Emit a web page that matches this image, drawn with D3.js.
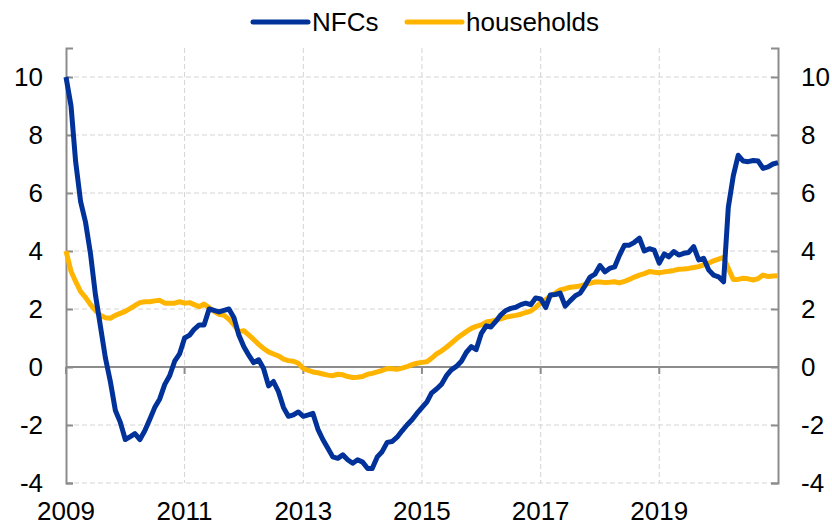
<!DOCTYPE html>
<html>
<head>
<meta charset="utf-8">
<script src="https://cdn.jsdelivr.net/npm/d3@7"></script>
<style>
  body { margin: 0; background: #fff; }
  svg { display: block; font-family: "Liberation Sans", Arial, sans-serif; }
  .grid line { stroke: #d4d4d4; stroke-width: 1; stroke-dasharray: 5 3; }
  .tick-lbl { font-size: 26px; fill: #000; }
</style>
</head>
<body>
<div id="chart"></div>
<script>
// monthly, Jan 2009 - Jan 2021
var startMonth = new Date(2009, 0, 1);

var nfcs = [
  10.0, 9.0, 7.1, 5.7, 5.0, 3.9, 2.5, 1.4, 0.3, -0.5, -1.5, -1.9,
  -2.5, -2.4, -2.3, -2.5, -2.2, -1.8, -1.4, -1.1, -0.6, -0.3, 0.2, 0.45,
  1.0, 1.1, 1.3, 1.45, 1.45, 2.0, 1.95, 1.9, 1.95, 2.0, 1.7, 1.1,
  0.7, 0.4, 0.15, 0.25, -0.05, -0.65, -0.5, -0.85, -1.4, -1.7, -1.65, -1.55,
  -1.7, -1.65, -1.6, -2.15, -2.5, -2.8, -3.1, -3.15, -3.03, -3.2, -3.32, -3.2,
  -3.28, -3.5, -3.5, -3.1, -2.92, -2.6, -2.57, -2.42, -2.2, -2.0, -1.82, -1.6,
  -1.4, -1.2, -0.9, -0.76, -0.6, -0.3, -0.1, 0.02, 0.2, 0.5, 0.7, 0.6,
  1.15, 1.42, 1.38, 1.58, 1.8, 1.95, 2.02, 2.06, 2.15, 2.2, 2.15, 2.38,
  2.35, 2.05, 2.48, 2.5, 2.55, 2.1, 2.28, 2.45, 2.55, 2.8, 3.1, 3.2,
  3.5, 3.28, 3.4, 3.45, 3.85, 4.2, 4.2, 4.3, 4.44, 4.0, 4.08, 4.03,
  3.58, 3.9, 3.8, 3.98, 3.86, 3.92, 3.95, 4.15, 3.69, 3.75, 3.35, 3.17,
  3.11, 2.94, 5.5, 6.6, 7.3, 7.1, 7.08, 7.12, 7.1, 6.85, 6.9, 7.0,
  7.05
];

var households = [
  4.0, 3.3, 2.95, 2.6, 2.4, 2.15, 1.95, 1.78, 1.7, 1.68, 1.78, 1.85,
  1.92, 2.02, 2.12, 2.22, 2.25, 2.25, 2.28, 2.3, 2.2, 2.2, 2.2, 2.25,
  2.2, 2.22, 2.15, 2.08, 2.17, 2.05, 1.92, 1.82, 1.78, 1.65, 1.45, 1.22,
  1.25, 1.1, 0.95, 0.78, 0.64, 0.52, 0.45, 0.38, 0.27, 0.22, 0.2, 0.13,
  -0.05, -0.12, -0.17, -0.2, -0.24, -0.28, -0.3, -0.25, -0.27, -0.33, -0.36, -0.35,
  -0.33, -0.25, -0.22, -0.17, -0.12, -0.05, -0.06, -0.08, -0.04, 0.01, 0.08, 0.13,
  0.16, 0.18, 0.3, 0.45, 0.55, 0.68, 0.82, 0.97, 1.1, 1.22, 1.33, 1.4,
  1.45, 1.55, 1.58, 1.62, 1.66, 1.72, 1.75, 1.78, 1.82, 1.88, 1.93, 2.05,
  2.22, 2.32, 2.45, 2.55, 2.66, 2.7, 2.75, 2.77, 2.79, 2.85, 2.89, 2.93,
  2.93, 2.91, 2.92, 2.94, 2.9, 2.95, 3.02, 3.1, 3.17, 3.22, 3.29, 3.27,
  3.25, 3.28, 3.3, 3.33, 3.37, 3.38, 3.4, 3.43, 3.46, 3.52, 3.58, 3.66,
  3.72, 3.78, 3.4, 3.02, 3.02, 3.06, 3.04, 3.0, 3.05, 3.17, 3.12, 3.14,
  3.15
];

var seriesNames = ["NFCs", "households"];
var seriesColors = ["#003299", "#ffb400"];
var yTicks = [-4, -2, 0, 2, 4, 6, 8, 10];
var xTickYears = [2009, 2011, 2013, 2015, 2017, 2019];

var width = 832, height = 527;
var margin = {top: 48, right: 54, bottom: 44, left: 66};
var plotW = width - margin.left - margin.right;
var plotH = height - margin.top - margin.bottom;

var svg = d3.select("#chart").append("svg")
  .attr("width", width).attr("height", height);
var g = svg.append("g")
  .attr("transform", "translate(" + margin.left + "," + margin.top + ")");

var x = d3.scaleTime()
  .domain([startMonth, new Date(2021, 0, 1)])
  .range([0, plotW]);
var y = d3.scaleLinear().domain([-4, 11]).range([plotH, 0]);

function dateAt(i) { return d3.timeMonth.offset(startMonth, i); }
var xTicks = xTickYears.map(function(yr){ return new Date(yr, 0, 1); });
var fmt = function(d){ return String(d); }; // plain hyphen minus

// grid
var grid = g.append("g").attr("class", "grid");
grid.selectAll(".hg").data(yTicks.filter(function(v){ return v !== 0; }))
  .enter().append("line")
  .attr("x1", 0).attr("x2", plotW)
  .attr("y1", function(d){ return y(d); }).attr("y2", function(d){ return y(d); });
grid.selectAll(".vg").data(xTicks.slice(1))
  .enter().append("line")
  .attr("x1", function(d){ return x(d); }).attr("x2", function(d){ return x(d); })
  .attr("y1", 0).attr("y2", plotH);

// zero line with year ticks hanging down
var axisCol = "#8c8c8c";
g.append("line")
  .attr("x1", 0).attr("x2", plotW).attr("y1", y(0)).attr("y2", y(0))
  .attr("stroke", axisCol).attr("stroke-width", 2);
g.selectAll(".xt").data(xTicks).enter().append("line")
  .attr("x1", function(d){ return x(d); }).attr("x2", function(d){ return x(d); })
  .attr("y1", y(0)).attr("y2", y(0) + 7)
  .attr("stroke", axisCol).attr("stroke-width", 2);

// left and right axes
var yl = g.append("g")
  .call(d3.axisLeft(y).tickValues(yTicks).tickFormat(fmt).tickSize(-7).tickPadding(23));
var yr = g.append("g").attr("transform", "translate(" + plotW + ",0)")
  .call(d3.axisRight(y).tickValues(yTicks).tickFormat(fmt).tickSize(-7).tickPadding(23));
[yl, yr].forEach(function(a){
  a.select(".domain").attr("stroke", axisCol).attr("stroke-width", 2);
  a.selectAll(".tick line").attr("stroke", axisCol).attr("stroke-width", 2);
  a.selectAll(".tick text").attr("class", "tick-lbl")
    .style("font-family", "Liberation Sans, Arial, sans-serif").attr("fill", "#000");
});

// x labels
g.selectAll(".xl").data(xTicks).enter().append("text")
  .attr("class", "tick-lbl")
  .attr("x", function(d){ return x(d); })
  .attr("y", plotH + 37)
  .attr("text-anchor", "middle")
  .text(function(d){ return d.getFullYear(); });

// lines
var line = d3.line()
  .x(function(d, i){ return x(dateAt(i)); })
  .y(function(d){ return y(d); });

[households, nfcs].forEach(function(s){
  var idx = s === nfcs ? 0 : 1;
  g.append("path")
    .datum(s)
    .attr("fill", "none")
    .attr("stroke", seriesColors[idx])
    .attr("stroke-width", 5)
    .attr("stroke-linejoin", "round")
    .attr("d", line);
});

// legend
var legendX = [253, 407];
var leg = svg.append("g");
seriesNames.forEach(function(n, i){
  leg.append("line")
    .attr("x1", legendX[i]).attr("x2", legendX[i] + 55)
    .attr("y1", 22).attr("y2", 22)
    .attr("stroke", seriesColors[i]).attr("stroke-width", 5)
    .attr("stroke-linecap", "round");
  leg.append("text")
    .attr("class", "tick-lbl")
    .attr("x", legendX[i] + 59).attr("y", 31)
    .text(n);
});
</script>
</body>
</html>
